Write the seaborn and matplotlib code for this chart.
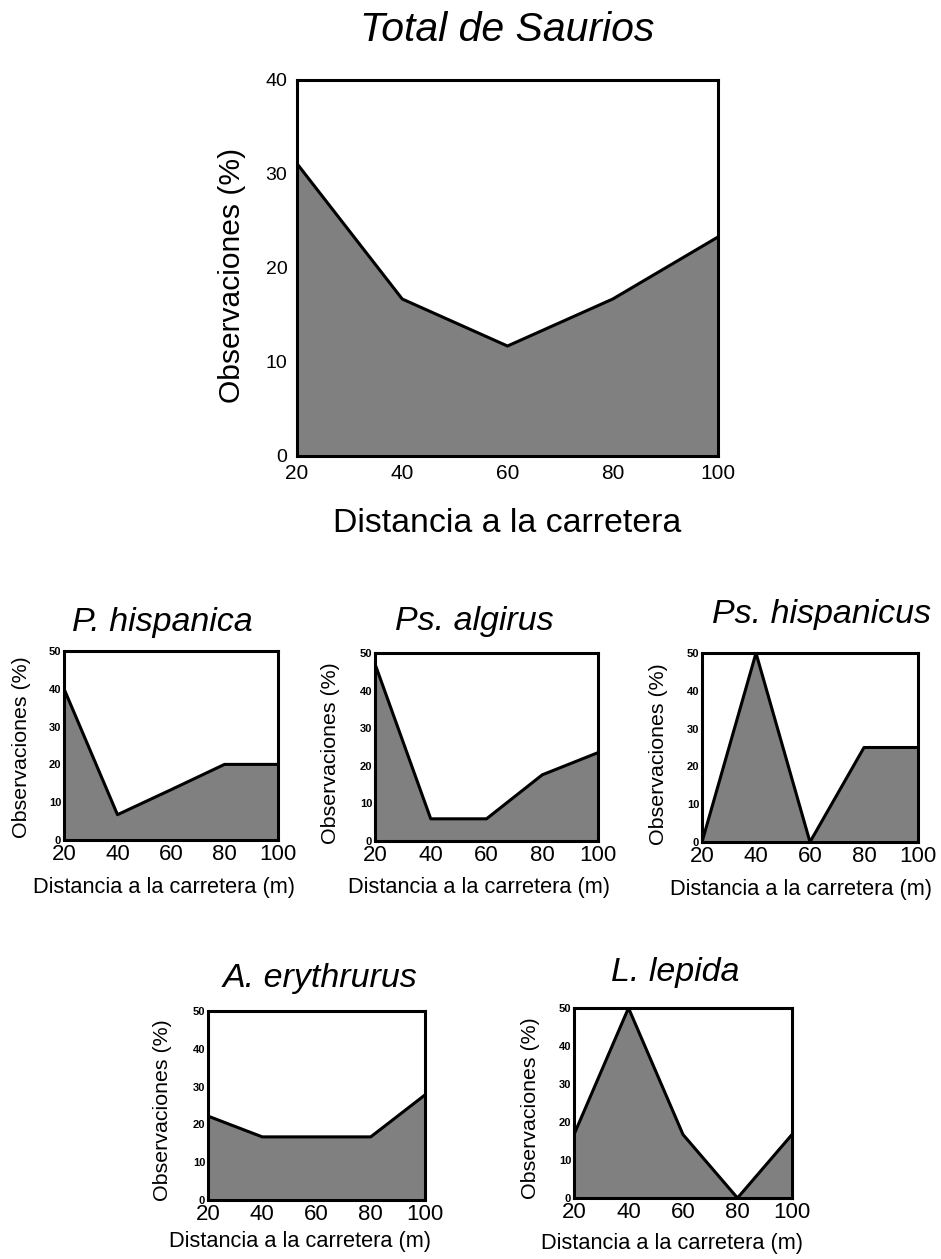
import matplotlib
matplotlib.use("Agg")
import matplotlib.pyplot as plt
import numpy as np
import pandas as pd
import seaborn as sns

# ---- data ----
distances = [20, 40, 60, 80, 100]
total_saurios = [31.1, 16.7, 11.7, 16.7, 23.3]
p_hispanica = [40.0, 6.7, 13.3, 20.0, 20.0]
ps_algirus = [47.1, 5.9, 5.9, 17.6, 23.5]
ps_hispanicus = [0.0, 50.0, 0.0, 25.0, 25.0]
a_erythrurus = [22.2, 16.7, 16.7, 16.7, 27.8]
l_lepida = [16.7, 50.0, 16.7, 0.0, 16.7]

main_yticks = [0, 10, 20, 30, 40]
small_yticks = [0, 10, 20, 30, 40, 50]
xticks = [20, 40, 60, 80, 100]

sns.set_style("white")
plt.rcParams['font.family'] = ['Liberation Sans', 'DejaVu Sans']
plt.rcParams['text.color'] = 'black'
plt.rcParams['xtick.color'] = 'black'
plt.rcParams['ytick.color'] = 'black'
plt.rcParams['xtick.labelcolor'] = 'black'
plt.rcParams['ytick.labelcolor'] = 'black'

W, H = 941, 1259
fig = plt.figure(figsize=(W / 100, H / 100), dpi=100)


def add_ax(x0, y0, x1, y1):
    return fig.add_axes([x0 / W, 1 - y1 / H, (x1 - x0) / W, (y1 - y0) / H])


def ftext(x, y, s, size, **kw):
    fig.text(x / W, 1 - y / H, s, fontsize=size, ha='center', va='center',
             color='black', **kw)


def draw(ax, values, ymax, yticks, ytick_size, xtick_size, ypad, xpad):
    df = pd.DataFrame({"dist": distances, "obs": values})
    ax.fill_between(df["dist"], 0, df["obs"], color="#808080", lw=0, zorder=1)
    sns.lineplot(data=df, x="dist", y="obs", ax=ax, color="black", lw=2.2, zorder=3)
    ax.set_xlim(20, 100)
    ax.set_ylim(0, ymax)
    ax.set_xticks(xticks)
    ax.set_yticks(yticks)
    ax.set_xlabel("")
    ax.set_ylabel("")
    ax.tick_params(axis='y', direction='in', length=3, width=1, labelsize=ytick_size, pad=ypad)
    ax.tick_params(axis='x', direction='in', length=0, labelsize=xtick_size, pad=xpad)
    for lab in ax.get_yticklabels():
        lab.set_fontweight('bold')
    for s in ax.spines.values():
        s.set_linewidth(2.2)
        s.set_color('black')
        s.set_visible(True)
        s.set_zorder(4)


# ---- main chart ----
ax = add_ax(297, 80, 718, 456)
draw(ax, total_saurios, 40, main_yticks, 14, 15, 7, 6)
for lab in ax.get_yticklabels():
    lab.set_fontweight('normal')
ftext(507, 30, "Total de Saurios", 29.5, style='italic')
ftext(507, 523, "Distancia a la carretera", 24.4)
ftext(232, 275, "Observaciones (%)", 21.6, rotation=90)

# ---- small charts ----
small = [
    # values, axes box, title, title pos, xlabel pos, ylabel pos
    (p_hispanica, (64, 651, 278, 840), "P. hispanica", (162, 623), (164, 888), (22, 747)),
    (ps_algirus, (375, 653, 598, 841), "Ps. algirus", (474, 622), (479, 888), (330, 753)),
    (ps_hispanicus, (702, 653, 918, 842), "Ps. hispanicus", (821, 615), (801, 890), (658, 754)),
    (a_erythrurus, (208, 1011, 425, 1200), "A. erythrurus", (320, 978), (300, 1242), (163, 1110)),
    (l_lepida, (574, 1008, 792, 1198), "L. lepida", (675, 972), (672, 1243), (530, 1108)),
]

for vals, box, title, tpos, xpos, ypos in small:
    a = add_ax(*box)
    draw(a, vals, 50, small_yticks, 8, 16, 2, 3)
    ftext(tpos[0], tpos[1], title, 24.5, style='italic')
    ftext(xpos[0], xpos[1], "Distancia a la carretera (m)", 15.7)
    ftext(ypos[0], ypos[1], "Observaciones (%)", 15.4, rotation=90)

fig.savefig("out.png", dpi=100, facecolor='white')
